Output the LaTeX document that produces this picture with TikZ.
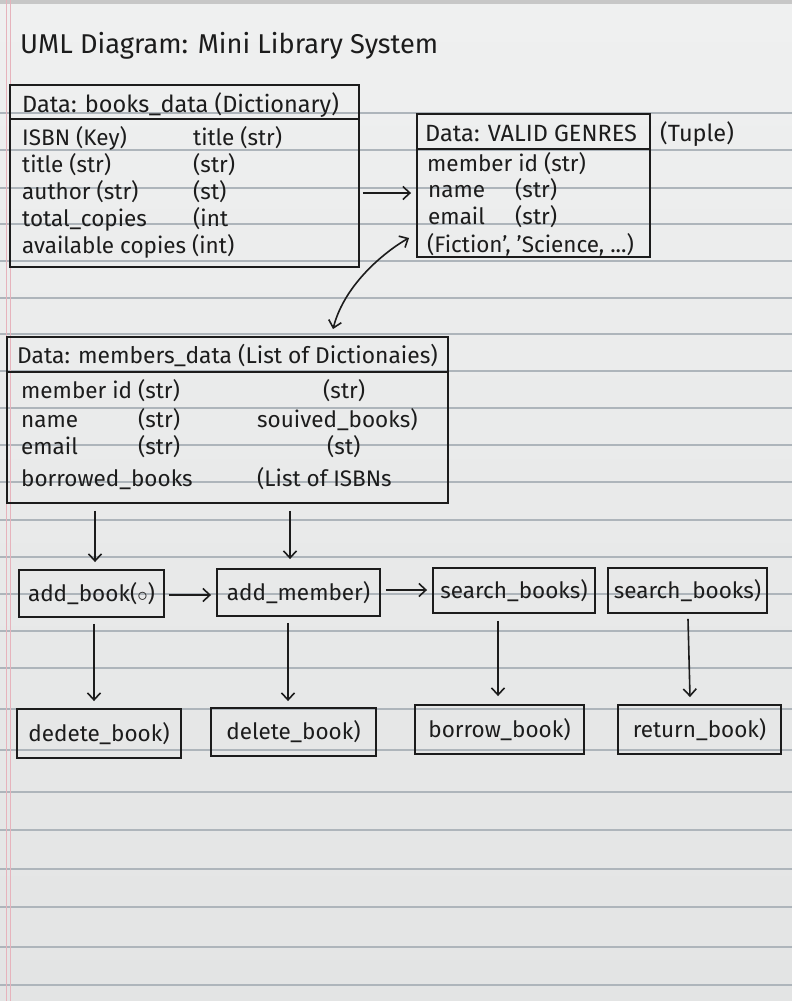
\documentclass[tikz,border=0pt]{standalone}
\usepackage{fontspec}
\setmainfont{Fira Sans}
\usetikzlibrary{arrows.meta}
\definecolor{paper}{HTML}{EFF0F0}
\definecolor{paperlow}{HTML}{E3E4E4}
\definecolor{rule}{HTML}{AEB5BB}
\definecolor{margin}{HTML}{E6B3BC}
\definecolor{ink}{HTML}{1C1C1C}
\tikzset{
  box/.style={draw=ink, line width=1.9pt, rectangle, inner sep=0pt},
  sep/.style={draw=ink, line width=2.3pt},
  txt/.style={anchor=base west, inner sep=0pt, text=ink, font=\fontsize{22.5}{26}\selectfont},
  hdr/.style={anchor=base west, inner sep=0pt, text=ink, font=\fontsize{23.5}{27}\selectfont},
  fn/.style={box, text=ink, font=\fontsize{22.5}{26}\selectfont},
  arr/.style={draw=ink, line width=1.6pt, -{Straight Barb[length=7pt,width=13pt,line width=1.6pt]}},
  arrb/.style={draw=ink, line width=1.6pt, {Straight Barb[length=7pt,width=13pt,line width=1.6pt]}-{Straight Barb[length=7pt,width=13pt,line width=1.6pt]}},
  ruled/.style={draw=rule, line width=1.1pt}
}
\begin{document}
\begin{tikzpicture}[x=1pt,y=-1pt]
\useasboundingbox (0,0) rectangle (792,1001);
% paper
\shade[top color=paper, bottom color=paperlow] (0,0) rectangle (792,1001);
\fill[black!22] (0,0) rectangle (792,4);
\foreach \yy in {113,150,188,224,261,298,334,371,408,445,482,520,557,594,631,668,709,750,792,830,869,907,947,985}
  \draw[ruled] (0,\yy) -- (792,\yy);
\draw[margin, line width=1pt] (6,0) -- (6,1001);
\draw[margin, line width=1pt] (10,0) -- (10,1001);

% title
\node[anchor=base west, inner sep=0pt, text=ink, font=\fontsize{27.2}{31}\selectfont] (title) at (20,53) {UML Diagram: Mini Library System};

% books_data
\node[box, minimum width=349pt, minimum height=182pt] (books) at (184.5,176) {};
\draw[sep] ([yshift=-35pt]books.north west) -- ([yshift=-35pt]books.north east);
\node[hdr] (bh) at (22,112) {Data: books\_data (Dictionary)};
\node[txt] (b1a) at (22,145) {ISBN (Key)};
\node[txt] (b1b) at (193,145) {title (str)};
\node[txt] (b2a) at (22,172) {title (str)};
\node[txt] (b2b) at (193,172) {(str)};
\node[txt] (b3a) at (22,199) {author (str)};
\node[txt] (b3b) at (193,199) {(st)};
\node[txt] (b4a) at (22,226) {total\_copies};
\node[txt] (b4b) at (193,226) {(int};
\node[txt] (b5a) at (22,253) {available copies (int)};

% VALID GENRES
\node[box, minimum width=233pt, minimum height=143pt] (valid) at (533.5,185.5) {};
\draw[sep] ([yshift=-36pt]valid.north west) -- ([yshift=-36pt]valid.north east);
\node[hdr] (vh) at (425,141) {Data: VALID GENRES};
\node[hdr] (vt) at (660,141) {(Tuple)};
\node[txt] (v1) at (427,171) {member id (str)};
\node[txt] (v2a) at (428,197) {name};
\node[txt] (v2b) at (515,197) {(str)};
\node[txt] (v3a) at (428,224) {email};
\node[txt] (v3b) at (515,224) {(str)};
\node[txt] (v4) at (427,252) {(Fiction', 'Science, ...)};

% members_data
\node[box, minimum width=441pt, minimum height=166pt] (members) at (227.5,420) {};
\draw[sep] ([yshift=-36pt]members.north west) -- ([yshift=-36pt]members.north east);
\node[hdr, font=\fontsize{22.8}{27}\selectfont] (mh) at (17,363) {Data: members\_data (List of Dictionaies)};
\node[txt] (m1a) at (21,398) {member id (str)};
\node[txt] (m1b) at (323,398) {(str)};
\node[txt] (m2a) at (21,427) {name};
\node[txt] (m2b) at (138,427) {(str)};
\node[txt] (m2c) at (257,427) {souived\_books)};
\node[txt] (m3a) at (21,454) {email};
\node[txt] (m3b) at (138,454) {(str)};
\node[txt] (m3c) at (327,454) {(st)};
\node[txt] (m4a) at (21,486) {borrowed\_books};
\node[txt] (m4b) at (257,486) {(List of ISBNs};

% function boxes
\node[fn, minimum width=145pt, minimum height=47pt] (addbook) at (91.5,593.5) {add\_book($\circ$)};
\node[fn, minimum width=163pt, minimum height=47pt] (addmember) at (298.5,592.5) {add\_member)};
\node[fn, minimum width=162pt, minimum height=45pt] (searchA) at (514,590.5) {search\_books)};
\node[fn, minimum width=159pt, minimum height=45pt] (searchB) at (687.5,590.5) {search\_books)};
\node[fn, minimum width=164pt, minimum height=49pt] (dedete) at (99,733.5) {dedete\_book)};
\node[fn, minimum width=165pt, minimum height=48pt] (delete) at (293.5,732) {delete\_book)};
\node[fn, minimum width=169pt, minimum height=49pt] (borrow) at (499.5,729.5) {borrow\_book)};
\node[fn, minimum width=163pt, minimum height=49pt] (return) at (699.5,729.5) {return\_book)};

% connectors
\draw[arr] ([shift={(3pt,-17pt)}]books.east) -- ([shift={(-5pt,-7.5pt)}]valid.west);
\draw[arrb] ([shift={(105.5pt,7pt)}]members.north) .. controls +(12pt,47pt) and +(-20pt,-11pt) .. ([shift={(-7pt,20pt)}]valid.south west);
\draw[arr] ([shift={(-132.5pt,-7pt)}]members.south) -- ([shift={(3.5pt,7pt)}]addbook.north);
\draw[arr] ([shift={(62.5pt,-7pt)}]members.south) -- ([shift={(-8.5pt,9pt)}]addmember.north);
\draw[arr] ([shift={(4pt,-1.5pt)}]addbook.east) -- ([shift={(-5pt,-2.5pt)}]addmember.west);
\draw[arr] ([shift={(5pt,2.5pt)}]addmember.east) -- ([shift={(-5pt,0.5pt)}]searchA.west);
\draw[arr] ([shift={(2.5pt,-6pt)}]addbook.south) -- ([shift={(-5pt,7pt)}]dedete.north);
\draw[arr] ([shift={(-10.5pt,-6pt)}]addmember.south) -- ([shift={(-5.5pt,6pt)}]delete.north);
\draw[arr] ([shift={(-16pt,-7pt)}]searchA.south) -- ([shift={(-1.5pt,8pt)}]borrow.north);
\draw[arr] ([shift={(0.5pt,-5pt)}]searchB.south) -- ([shift={(-9.5pt,7pt)}]return.north);
\end{tikzpicture}
\end{document}
